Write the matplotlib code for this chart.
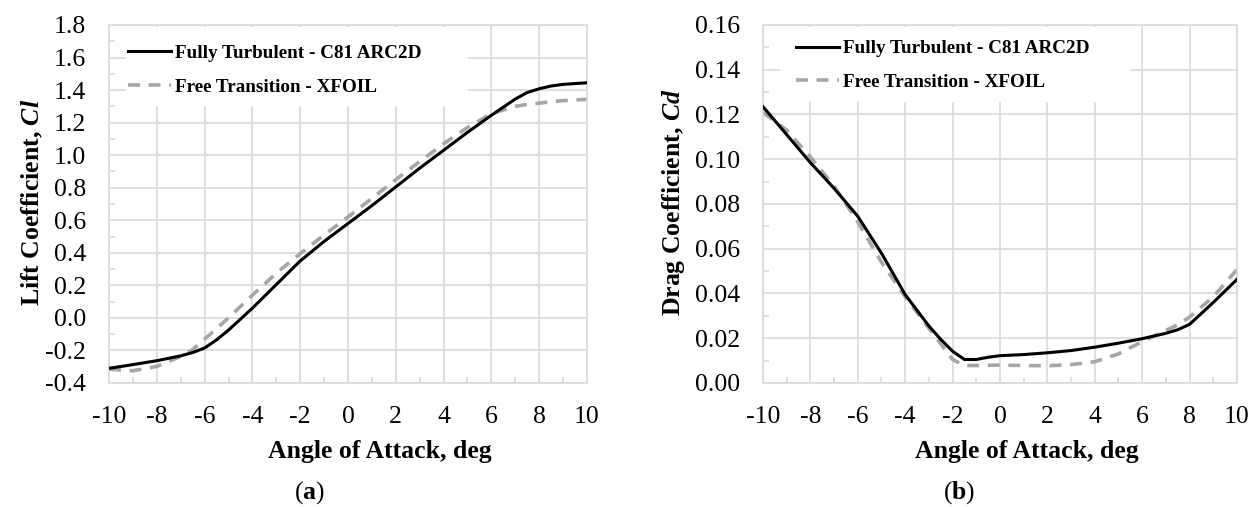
import matplotlib
matplotlib.use("Agg")
import matplotlib.pyplot as plt
from matplotlib.ticker import MultipleLocator, FormatStrFormatter
from matplotlib.patches import Rectangle
from matplotlib.lines import Line2D

plt.rcParams['font.family'] = ['Liberation Serif', 'DejaVu Serif']
plt.rcParams['axes.unicode_minus'] = False
plt.rcParams['mathtext.fontset'] = 'custom'
plt.rcParams['mathtext.rm'] = 'Liberation Serif'
plt.rcParams['mathtext.bf'] = 'Liberation Serif:bold'
plt.rcParams['mathtext.bfit'] = 'Liberation Serif:italic:bold'

# angle of attack values
aoa = [-10, -9, -8, -7, -6.5, -6, -5.5, -5, -4, -3, -2, -1, 0, 1, 2, 3, 4, 5, 6, 7, 7.5, 8, 8.5, 9, 10]

# (a) lift coefficient
cl_turb = [-0.31, -0.287, -0.263, -0.233, -0.213, -0.185, -0.135, -0.075, 0.06, 0.205, 0.35,
           0.47, 0.58, 0.69, 0.805, 0.92, 1.03, 1.14, 1.245, 1.345, 1.385, 1.408, 1.425, 1.435, 1.445]
cl_xfoil = [-0.315, -0.325, -0.298, -0.237, -0.195, -0.13, -0.065, 0.0, 0.14, 0.275, 0.395,
            0.51, 0.62, 0.735, 0.85, 0.96, 1.07, 1.17, 1.255, 1.3, 1.312, 1.32, 1.328, 1.335, 1.343]

# (b) drag coefficient
aoa_d = [-10, -9, -8, -7, -6, -5, -4, -3, -2.5, -2, -1.5, -1, -0.5, 0, 1, 2, 3, 4, 5, 6, 7, 7.5, 8, 9, 10]
cd_turb = [0.1235, 0.111, 0.0985, 0.087, 0.0745, 0.058, 0.0395, 0.0255, 0.0195, 0.0142, 0.0105,
           0.0105, 0.0115, 0.0122, 0.0127, 0.0135, 0.0145, 0.016, 0.0178, 0.0198, 0.0222, 0.0238,
           0.0262, 0.036, 0.0463]
cd_xfoil = [0.121, 0.113, 0.101, 0.088, 0.072, 0.054, 0.0385, 0.0245, 0.0175, 0.0105, 0.0078,
            0.0078, 0.0079, 0.008, 0.0078, 0.0077, 0.0082, 0.0095, 0.013, 0.0185, 0.0235, 0.026,
            0.0295, 0.0385, 0.0507]

labels = ['Fully Turbulent - C81 ARC2D', 'Free Transition - XFOIL']

grid_col = '#d9d9d9'
gray_col = '#a6a6a6'

fig = plt.figure(figsize=(12.52, 5.07), dpi=100)
ax1 = fig.add_axes([0.0871, 0.2446, 0.3817, 0.7061])
ax2 = fig.add_axes([0.6094, 0.2446, 0.3786, 0.7061])


def style_axes(ax, ylim, ymaj, ymin, yfmt):
    ax.set_xlim(-10, 10)
    ax.set_ylim(*ylim)
    ax.xaxis.set_major_locator(MultipleLocator(2))
    ax.xaxis.set_minor_locator(MultipleLocator(1))
    ax.yaxis.set_major_locator(MultipleLocator(ymaj))
    ax.yaxis.set_minor_locator(MultipleLocator(ymin))
    ax.yaxis.set_major_formatter(FormatStrFormatter(yfmt))
    ax.xaxis.set_major_formatter(FormatStrFormatter('%d'))
    ax.set_axisbelow(True)
    ax.grid(True, which='major', color=grid_col, lw=1.2)
    for s in ax.spines.values():
        s.set_color(grid_col)
        s.set_linewidth(1.2)
    ax.tick_params(which='major', length=0, labelsize=18.5, pad=16.5)
    ax.tick_params(which='minor', direction='in', length=4.5, width=1.2, color=grid_col,
                   top=False, right=False)


def add_legend(ax, box, anchor):
    # white area behind the legend hides the gridlines, as in the source
    ax.add_patch(Rectangle((box[0], box[1]), box[2], box[3], transform=ax.transAxes,
                           facecolor='white', edgecolor='none', zorder=1))
    handles = [Line2D([], [], color='black', lw=2.2),
               Line2D([], [], color=gray_col, lw=2.6, ls=(0, (3.3, 2.4)))]
    ax.legend(handles, labels, loc='upper left', bbox_to_anchor=anchor, frameon=False,
              prop={'weight': 'bold', 'size': 13.8}, handlelength=2.25, handletextpad=0.2,
              labelspacing=0.85, borderpad=0, borderaxespad=0)


# (a)
ax1.plot(aoa, cl_turb, color='black', lw=2.2, zorder=3)
ax1.plot(aoa, cl_xfoil, color=gray_col, lw=2.6, ls=(0, (3.3, 2.4)), zorder=2)
style_axes(ax1, (-0.4, 1.8), 0.2, 0.1, '%.1f')
ax1.set_xlabel('Angle of Attack, deg', fontsize=18.5, fontweight='bold')
ax1.set_ylabel(r'Lift Coefficient, $\mathbfit{Cl}$', fontsize=18.5, fontweight='bold')
ax1.xaxis.set_label_coords(0.567, -0.19)
ax1.xaxis.label.set_va('center')
ax1.yaxis.set_label_coords(-0.161, 0.505)
ax1.yaxis.label.set_va('center')
add_legend(ax1, (0.036, 0.775, 0.715, 0.22), (0.04, 0.945))

# (b)
ax2.plot(aoa_d, cd_turb, color='black', lw=2.2, zorder=3)
ax2.plot(aoa_d, cd_xfoil, color=gray_col, lw=2.6, ls=(0, (3.3, 2.4)), zorder=2)
style_axes(ax2, (0, 0.16), 0.02, 0.01, '%.2f')
ax2.set_xlabel('Angle of Attack, deg', fontsize=18.5, fontweight='bold')
ax2.set_ylabel(r'Drag Coefficient, $\mathbfit{Cd}$', fontsize=18.5, fontweight='bold')
ax2.xaxis.set_label_coords(0.557, -0.19)
ax2.xaxis.label.set_va('center')
ax2.yaxis.set_label_coords(-0.188, 0.505)
ax2.yaxis.label.set_va('center')
add_legend(ax2, (0.036, 0.785, 0.74, 0.21), (0.07, 0.958))

fig.text(0.247, 0.028, r'($\mathbf{a}$)', fontsize=18.5, ha='center', va='center')
fig.text(0.766, 0.028, r'($\mathbf{b}$)', fontsize=18.5, ha='center', va='center')

fig.savefig('out.png', dpi=100)
